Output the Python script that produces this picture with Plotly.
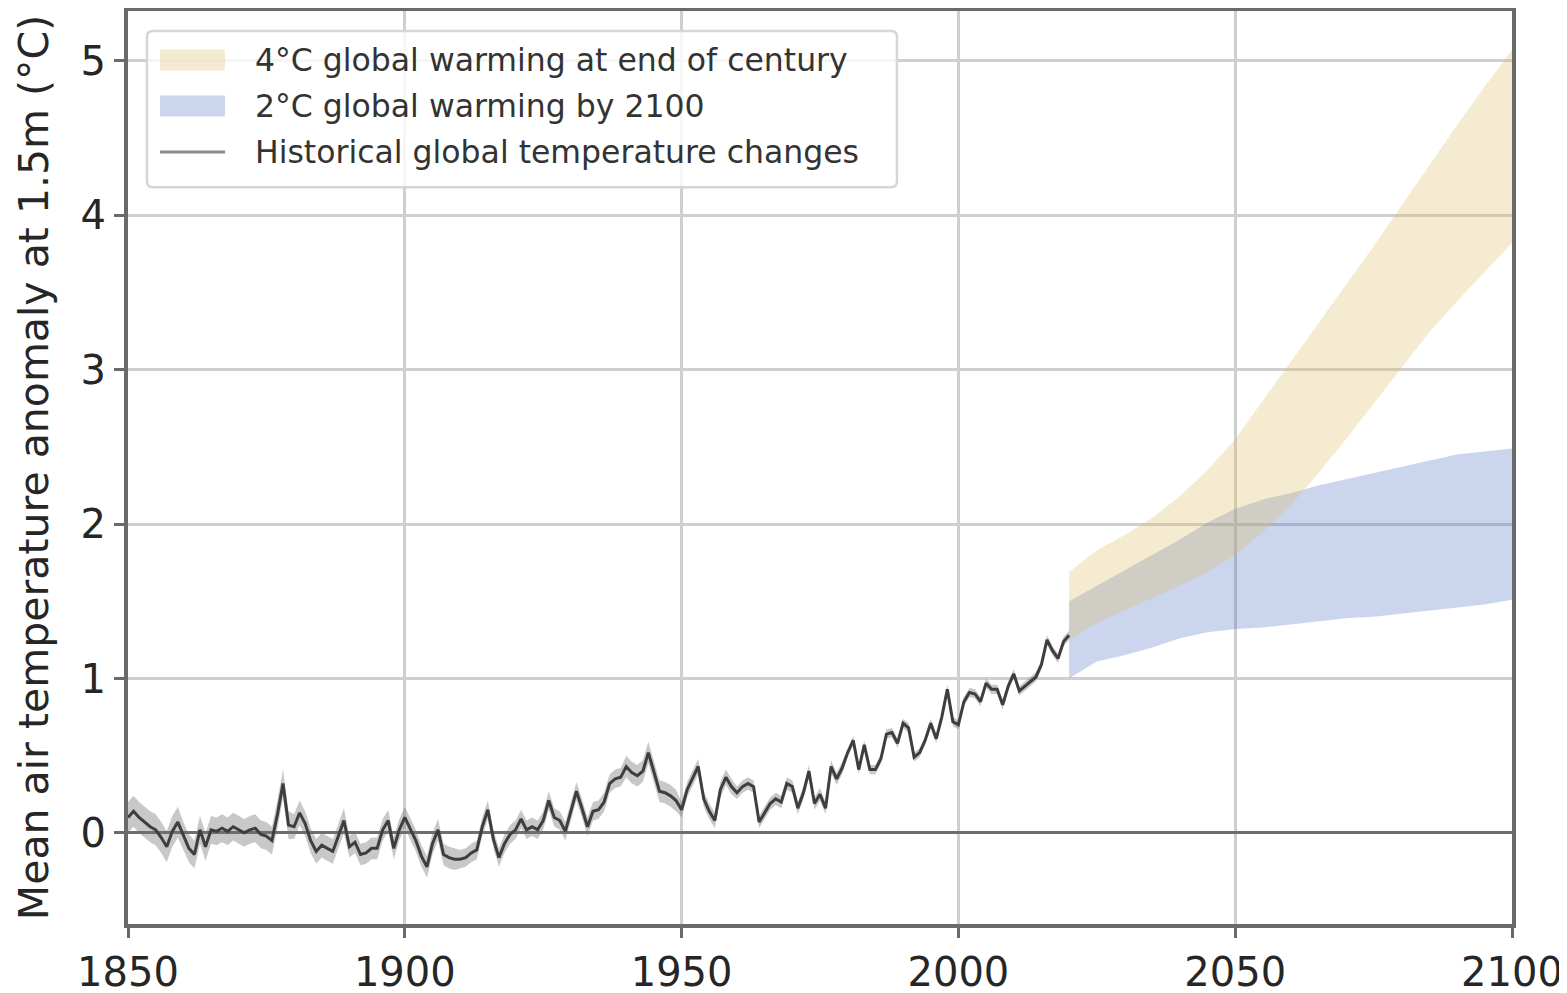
import plotly.graph_objects as go

# ---------------- data ----------------
hist_years = list(range(1850, 2021))
hist_mean = [
    0.10, 0.14, 0.10, 0.07, 0.04, 0.02, -0.03, -0.09, 0.01, 0.07,   # 1850s
    -0.02, -0.10, -0.14, 0.02, -0.09, 0.02, 0.01, 0.03, 0.01, 0.04,  # 1860s
    0.02, 0.00, 0.02, 0.03, -0.01, -0.02, -0.05, 0.12, 0.32, 0.05,   # 1870s
    0.04, 0.13, 0.06, -0.05, -0.12, -0.08, -0.10, -0.12, -0.02, 0.08,  # 1880s
    -0.09, -0.06, -0.14, -0.13, -0.10, -0.10, 0.02, 0.08, -0.10, 0.02,  # 1890s
    0.10, 0.03, -0.05, -0.15, -0.22, -0.07, 0.02, -0.14, -0.16, -0.17,  # 1900s
    -0.17, -0.16, -0.13, -0.11, 0.04, 0.15, -0.04, -0.16, -0.07, -0.01,  # 1910s
    0.02, 0.09, 0.02, 0.04, 0.02, 0.08, 0.21, 0.10, 0.08, 0.01,      # 1920s
    0.14, 0.27, 0.16, 0.04, 0.14, 0.15, 0.20, 0.32, 0.35, 0.36,      # 1930s
    0.43, 0.39, 0.37, 0.40, 0.52, 0.40, 0.27, 0.26, 0.24, 0.21,      # 1940s
    0.15, 0.28, 0.36, 0.43, 0.22, 0.14, 0.08, 0.28, 0.36, 0.30,      # 1950s
    0.26, 0.30, 0.32, 0.30, 0.07, 0.13, 0.19, 0.22, 0.20, 0.32,      # 1960s
    0.30, 0.16, 0.26, 0.40, 0.19, 0.25, 0.16, 0.43, 0.35, 0.42,      # 1970s
    0.52, 0.60, 0.41, 0.57, 0.41, 0.41, 0.48, 0.64, 0.65, 0.58,      # 1980s
    0.71, 0.68, 0.49, 0.52, 0.60, 0.71, 0.61, 0.75, 0.93, 0.72,      # 1990s
    0.70, 0.85, 0.91, 0.90, 0.85, 0.97, 0.93, 0.93, 0.83, 0.95,      # 2000s
    1.03, 0.92, 0.95, 0.98, 1.01, 1.09, 1.25, 1.18, 1.13, 1.24,      # 2010s
    1.28,                                                            # 2020
]
# uncertainty half-width of the historical record, one value per decade (1850s ... 2020)
hist_halfwidth_by_decade = [0.10, 0.09, 0.09, 0.08, 0.07, 0.07, 0.06, 0.06, 0.06,
                            0.07, 0.05, 0.04, 0.04, 0.03, 0.03, 0.03, 0.03, 0.03]

proj_years = [2020, 2025, 2030, 2035, 2040, 2045, 2050, 2055, 2060,
              2065, 2070, 2075, 2080, 2085, 2090, 2095, 2100]
warm2_low = [1.00, 1.11, 1.15, 1.20, 1.26, 1.30, 1.32, 1.33, 1.35,
             1.37, 1.39, 1.40, 1.42, 1.44, 1.46, 1.48, 1.51]
warm2_high = [1.50, 1.60, 1.70, 1.80, 1.90, 2.01, 2.10, 2.16, 2.20,
              2.25, 2.29, 2.33, 2.37, 2.41, 2.45, 2.47, 2.49]
warm4_low = [1.25, 1.36, 1.44, 1.52, 1.60, 1.69, 1.80, 1.95, 2.12,
             2.33, 2.55, 2.78, 3.01, 3.24, 3.44, 3.63, 3.82]
warm4_high = [1.69, 1.83, 1.93, 2.04, 2.18, 2.35, 2.55, 2.80, 3.05,
              3.30, 3.55, 3.80, 4.06, 4.32, 4.58, 4.83, 5.07]

x_ticks = [1850, 1900, 1950, 2000, 2050, 2100]
y_ticks = [0, 1, 2, 3, 4, 5]

legend_labels = ["4°C global warming at end of century",
                 "2°C global warming by 2100",
                 "Historical global temperature changes"]

# ---------------- styles ----------------
YELLOW = "rgba(222,188,98,0.30)"
BLUE = "rgba(82,115,198,0.30)"
BAND = "rgba(110,110,110,0.38)"
LINE = "#3e3e3e"
FONT = "DejaVu Sans"

hw = [hist_halfwidth_by_decade[(y - 1850) // 10] for y in hist_years]
hist_up = [m + h for m, h in zip(hist_mean, hw)]
hist_lo = [m - h for m, h in zip(hist_mean, hw)]

fig = go.Figure()

# historical uncertainty band
fig.add_trace(go.Scatter(x=hist_years, y=hist_lo, mode="lines", line=dict(width=0),
                         showlegend=False, hoverinfo="skip"))
fig.add_trace(go.Scatter(x=hist_years, y=hist_up, mode="lines", line=dict(width=0),
                         fill="tonexty", fillcolor=BAND, showlegend=False, hoverinfo="skip"))

# 2°C band
fig.add_trace(go.Scatter(x=proj_years, y=warm2_low, mode="lines", line=dict(width=0),
                         showlegend=False, hoverinfo="skip"))
fig.add_trace(go.Scatter(x=proj_years, y=warm2_high, mode="lines", line=dict(width=0),
                         fill="tonexty", fillcolor=BLUE, name=legend_labels[1], showlegend=False))

# 4°C band
fig.add_trace(go.Scatter(x=proj_years, y=warm4_low, mode="lines", line=dict(width=0),
                         showlegend=False, hoverinfo="skip"))
fig.add_trace(go.Scatter(x=proj_years, y=warm4_high, mode="lines", line=dict(width=0),
                         fill="tonexty", fillcolor=YELLOW, name=legend_labels[0], showlegend=False))

# historical mean
fig.add_trace(go.Scatter(x=hist_years, y=hist_mean, mode="lines",
                         line=dict(color=LINE, width=3), name=legend_labels[2],
                         showlegend=False))

# ---------------- manual legend (matplotlib style) ----------------
L, R, T, B = 0.0137, 0.5556, 0.978, 0.807
rx, ry = 6 / 1384, 6 / 913
box_path = (f"M {L+rx},{B} L {R-rx},{B} Q {R},{B} {R},{B+ry} L {R},{T-ry} Q {R},{T} {R-rx},{T} "
            f"L {L+rx},{T} Q {L},{T} {L},{T-ry} L {L},{B+ry} Q {L},{B} {L+rx},{B} Z")
shapes = [dict(type="path", xref="paper", yref="paper", path=box_path,
               fillcolor="rgba(255,255,255,0.8)", line=dict(color="#d6d6d6", width=2.5))]
row_y = [0.9463, 0.8960, 0.8456]
sw_x0, sw_x1 = 0.0231, 0.0701
shapes.append(dict(type="rect", xref="paper", yref="paper", x0=sw_x0, x1=sw_x1,
                   y0=row_y[0] - 0.0115, y1=row_y[0] + 0.0115,
                   fillcolor=YELLOW, line=dict(width=0)))
shapes.append(dict(type="rect", xref="paper", yref="paper", x0=sw_x0, x1=sw_x1,
                   y0=row_y[1] - 0.0115, y1=row_y[1] + 0.0115,
                   fillcolor=BLUE, line=dict(width=0)))
shapes.append(dict(type="line", xref="paper", yref="paper", x0=sw_x0, x1=sw_x1,
                   y0=row_y[2], y1=row_y[2], line=dict(color="#8a8a8a", width=3)))
annotations = []
for lab, yy in zip(legend_labels, row_y):
    annotations.append(dict(xref="paper", yref="paper", x=0.0903, y=yy, text=lab,
                            showarrow=False, xanchor="left", yanchor="middle",
                            font=dict(family=FONT, size=31.5, color="#333333")))

fig.update_layout(
    width=1567, height=993,
    margin=dict(l=120, r=63, t=3, b=77, autoexpand=False),
    paper_bgcolor="white", plot_bgcolor="white",
    font=dict(family=FONT, size=40, color="#262626"),
    shapes=shapes, annotations=annotations,
    showlegend=False,
)
axis_common = dict(showline=True, mirror=True, linecolor="#6a6a6a", linewidth=4,
                   showgrid=True, gridcolor="#cfcfcf", gridwidth=3, automargin=False,
                   ticks="outside", ticklen=10, tickwidth=3, tickcolor="#6a6a6a",
                   tickfont=dict(family=FONT, size=40, color="#262626"))
fig.update_xaxes(range=[1850, 2100], tickvals=x_ticks, zeroline=False, **axis_common)
fig.update_yaxes(range=[-0.59, 5.323], tickvals=y_ticks,
                 zeroline=True, zerolinecolor="#6e6e6e", zerolinewidth=3,
                 title=dict(text="Mean air temperature anomaly at 1.5m (°C)",
                            font=dict(family=FONT, size=41, color="#262626"), standoff=20),
                 **axis_common)

fig.write_html("out.html")
